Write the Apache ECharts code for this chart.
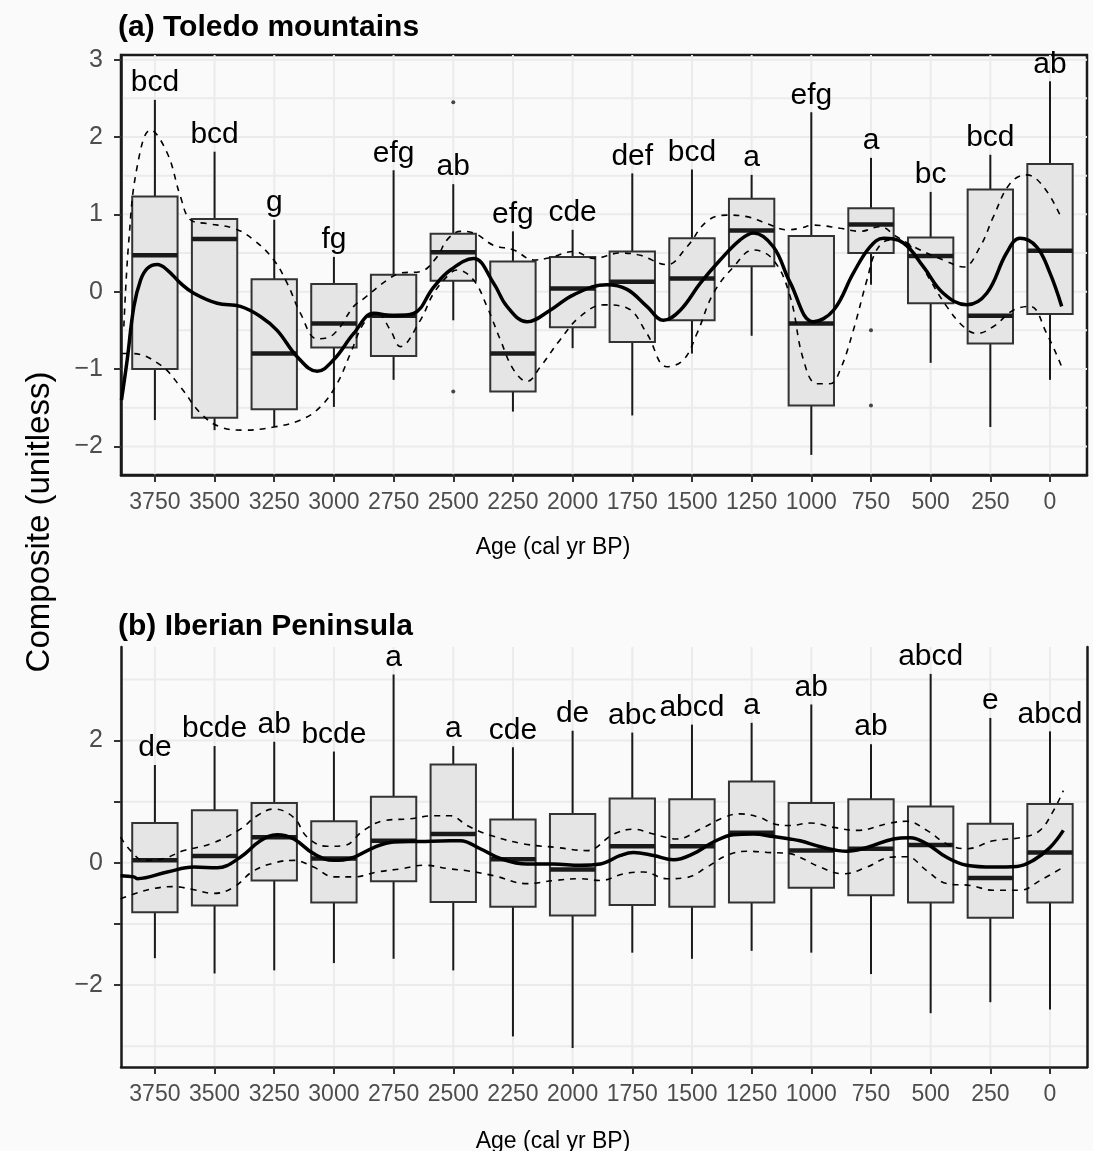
<!DOCTYPE html>
<html><head><meta charset="utf-8">
<script src="https://cdn.jsdelivr.net/npm/echarts@6/dist/echarts.min.js"></script>
<style>html,body{margin:0;padding:0;background:#fafafa}#c{width:1093px;height:1151px}</style>
</head><body><div id="c"></div>
<script>
// ---------- DATA ----------
const ages = [3750,3500,3250,3000,2750,2500,2250,2000,1750,1500,1250,1000,750,500,250,0];

// Panel (a) Toledo mountains: [low whisker, Q1, median, Q3, high whisker]
const lettersA = ['bcd','bcd','g','fg','efg','ab','efg','cde','def','bcd','a','efg','a','bc','bcd','ab'];
const statsA = [
  [-1.66,-1.00, 0.47,1.23,2.48],
  [-1.79,-1.63, 0.68,0.94,1.81],
  [-1.75,-1.52,-0.80,0.16,0.93],
  [-1.49,-0.72,-0.41,0.10,0.45],
  [-1.14,-0.83,-0.31,0.22,1.57],
  [-0.37, 0.14, 0.51,0.75,1.39],
  [-1.55,-1.29,-0.80,0.39,0.78],
  [-0.73,-0.46, 0.04,0.45,0.80],
  [-1.60,-0.65, 0.13,0.52,1.53],
  [-0.80,-0.37, 0.17,0.69,1.58],
  [-0.57, 0.33, 0.79,1.20,1.51],
  [-2.11,-1.47,-0.41,0.72,2.32],
  [ 0.09, 0.50, 0.87,1.08,1.73],
  [-0.92,-0.15, 0.46,0.70,1.29],
  [-1.75,-0.67,-0.31,1.32,1.77],
  [-1.14,-0.29, 0.53,1.65,2.72]
];
const outliersA = [[2500,2.45],[2500,-1.29],[750,-0.50],[750,-1.47]];
const meanA = [[3890,-1.40],[3866,-0.88],[3838,-0.19],[3810,0.15],[3782,0.30],[3740,0.35],[3698,0.28],[3643,0.11],[3587,-0.02],[3489,-0.15],[3392,-0.19],[3308,-0.32],[3238,-0.50],[3154,-0.84],[3070,-1.03],[3001,-0.88],[2917,-0.54],[2833,-0.28],[2750,-0.31],[2666,-0.28],[2582,0.06],[2512,0.28],[2415,0.43],[2331,0.11],[2275,-0.19],[2191,-0.39],[2094,-0.24],[1996,-0.04],[1856,0.09],[1772,0.03],[1689,-0.19],[1619,-0.37],[1549,-0.24],[1465,0.11],[1382,0.41],[1298,0.67],[1242,0.76],[1159,0.58],[1089,0.12],[991,-0.39],[907,-0.24],[824,0.24],[754,0.58],[698,0.69],[614,0.63],[530,0.32],[447,-0.02],[349,-0.17],[265,-0.02],[182,0.50],[126,0.69],[56,0.58],[0,0.24],[-49,-0.19]];
const upperA = [[3880,-0.45],[3859,0.67],[3824,1.62],[3768,2.09],[3698,1.79],[3643,1.23],[3601,0.93],[3531,0.88],[3420,0.82],[3336,0.67],[3252,0.41],[3196,0.11],[3140,-0.28],[3070,-0.61],[3001,-0.55],[2917,-0.19],[2875,-0.09],[2777,0.15],[2722,0.24],[2638,0.26],[2568,0.45],[2526,0.67],[2470,0.78],[2415,0.76],[2331,0.60],[2247,0.54],[2163,0.41],[2094,0.44],[1996,0.52],[1912,0.43],[1800,0.50],[1717,0.47],[1605,0.35],[1521,0.58],[1437,0.91],[1354,0.99],[1270,0.97],[1186,0.88],[1102,0.80],[1047,0.82],[991,0.86],[879,0.82],[796,0.78],[712,0.84],[642,0.71],[544,0.54],[447,0.41],[363,0.32],[293,0.58],[237,0.97],[167,1.40],[98,1.51],[28,1.36],[-42,0.99]];
const lowerA = [[3887,-0.80],[3845,-0.80],[3726,-0.95],[3643,-1.23],[3559,-1.57],[3475,-1.75],[3378,-1.79],[3252,-1.75],[3140,-1.66],[3057,-1.49],[2987,-1.19],[2931,-0.80],[2875,-0.41],[2819,-0.28],[2763,-0.50],[2722,-0.71],[2638,-0.37],[2582,-0.02],[2512,0.24],[2484,0.28],[2415,0.15],[2359,-0.19],[2303,-0.62],[2247,-1.01],[2191,-1.16],[2135,-0.97],[2052,-0.62],[1968,-0.32],[1870,-0.17],[1772,-0.21],[1689,-0.54],[1605,-0.97],[1535,-0.88],[1479,-0.54],[1410,-0.02],[1326,0.32],[1242,0.54],[1159,0.41],[1089,-0.06],[1033,-0.88],[977,-1.19],[921,-1.19],[879,-1.01],[824,-0.50],[767,0.15],[726,0.54],[670,0.67],[600,0.63],[558,0.45],[502,0.15],[433,-0.19],[363,-0.45],[307,-0.54],[237,-0.45],[154,-0.24],[84,-0.19],[14,-0.54],[-49,-0.97]];

// Panel (b) Iberian Peninsula
const lettersB = ['de','bcde','ab','bcde','a','a','cde','de','abc','abcd','a','ab','ab','abcd','e','abcd'];
const statsB = [
  [-1.56,-0.81, 0.04,0.65,1.60],
  [-1.81,-0.70, 0.11,0.86,1.91],
  [-1.76,-0.29, 0.42,0.98,1.98],
  [-1.64,-0.65, 0.07,0.68,1.82],
  [-1.57,-0.30, 0.36,1.08,3.08],
  [-1.76,-0.64, 0.47,1.61,1.91],
  [-2.84,-0.72, 0.06,0.71,1.89],
  [-3.03,-0.86,-0.11,0.80,2.16],
  [-1.47,-0.69, 0.27,1.05,2.13],
  [-1.57,-0.72, 0.27,1.04,2.26],
  [-1.44,-0.65, 0.49,1.33,2.29],
  [-1.47,-0.41, 0.20,0.98,2.59],
  [-1.82,-0.53, 0.23,1.04,1.94],
  [-2.46,-0.65, 0.29,0.92,3.09],
  [-2.28,-0.90,-0.25,0.64,2.37],
  [-2.40,-0.65, 0.17,0.96,2.15]
];
const meanB = [[3894,-0.21],[3838,-0.23],[3824,-0.26],[3698,-0.15],[3587,-0.07],[3489,-0.08],[3392,0.09],[3308,0.36],[3238,0.46],[3168,0.39],[3085,0.15],[3001,0.04],[2931,0.07],[2833,0.25],[2750,0.34],[2638,0.35],[2512,0.36],[2470,0.36],[2387,0.23],[2303,0.07],[2191,-0.02],[2080,-0.02],[1968,-0.04],[1884,-0.02],[1800,0.12],[1745,0.17],[1661,0.12],[1577,0.05],[1494,0.15],[1410,0.34],[1326,0.46],[1242,0.47],[1159,0.43],[1089,0.39],[1047,0.36],[949,0.25],[851,0.19],[767,0.25],[656,0.39],[586,0.41],[516,0.31],[433,0.09],[349,-0.04],[237,-0.07],[139,-0.06],[70,0.04],[0,0.25],[-56,0.53]];
const upperB = [[3894,0.42],[3852,0.20],[3796,0.04],[3713,0.07],[3629,0.20],[3517,0.31],[3392,0.55],[3322,0.77],[3252,0.88],[3168,0.74],[3112,0.42],[3029,0.27],[2959,0.28],[2875,0.53],[2791,0.69],[2680,0.72],[2582,0.77],[2512,0.77],[2442,0.61],[2345,0.45],[2205,0.31],[2065,0.25],[1940,0.20],[1828,0.47],[1745,0.55],[1661,0.47],[1563,0.39],[1465,0.55],[1368,0.74],[1298,0.80],[1214,0.74],[1159,0.64],[1089,0.61],[1005,0.65],[907,0.58],[809,0.53],[670,0.65],[600,0.68],[516,0.53],[433,0.31],[349,0.23],[237,0.36],[112,0.42],[42,0.53],[-14,0.85],[-56,1.18]];
const lowerB = [[3894,-0.59],[3838,-0.51],[3754,-0.42],[3671,-0.39],[3587,-0.44],[3503,-0.50],[3420,-0.40],[3336,-0.13],[3238,0.01],[3168,0.04],[3085,-0.07],[3001,-0.23],[2917,-0.23],[2819,-0.15],[2722,-0.10],[2624,-0.04],[2512,-0.10],[2442,-0.13],[2331,-0.21],[2191,-0.34],[2080,-0.29],[1968,-0.26],[1884,-0.29],[1787,-0.18],[1703,-0.15],[1605,-0.26],[1521,-0.24],[1437,-0.07],[1354,0.12],[1270,0.19],[1186,0.17],[1089,0.15],[1047,0.09],[963,-0.07],[865,-0.18],[767,-0.07],[670,0.09],[600,0.10],[516,-0.13],[433,-0.34],[335,-0.37],[237,-0.45],[126,-0.45],[42,-0.29],[-56,-0.07]];

// tick / grid values
const yTicksA = [-2,-1,0,1,2,3];
const yGridA = [-2,-1.5,-1,-0.5,0,0.5,1,1.5,2,2.5,3];
const yTicksB = [-2,-1,0,1,2];
const yLabelsB = [-2,0,2];
const yGridB = [-3,-2,-1,0,1,2,3];

// ---------- CHART ----------
const FONT = '"Liberation Sans", Arial, Helvetica, sans-serif';
const BOX_W = 190;
const X_MIN = -155, X_MAX = 3892;

function boxRender(letters) {
  return function (params, api) {
    const x = api.value(0);
    const lo = api.coord([x, api.value(1)]);
    const q1 = api.coord([x, api.value(2)]);
    const md = api.coord([x, api.value(3)]);
    const q3 = api.coord([x, api.value(4)]);
    const hi = api.coord([x, api.value(5)]);
    const w = Math.abs(api.size([BOX_W, 0])[0]);
    const cx = lo[0], L = cx - w / 2;
    return { type: 'group', children: [
      { type: 'line', shape: { x1: cx, y1: hi[1], x2: cx, y2: q3[1] }, style: { stroke: '#1a1a1a', lineWidth: 2 } },
      { type: 'line', shape: { x1: cx, y1: q1[1], x2: cx, y2: lo[1] }, style: { stroke: '#1a1a1a', lineWidth: 2 } },
      { type: 'rect', shape: { x: L, y: q3[1], width: w, height: q1[1] - q3[1] }, style: { fill: '#e5e5e5', stroke: '#333333', lineWidth: 2 } },
      { type: 'line', shape: { x1: L, y1: md[1], x2: L + w, y2: md[1] }, style: { stroke: '#1a1a1a', lineWidth: 4.5 } },
      { type: 'text', x: cx, y: hi[1] - 2, style: { text: letters[params.dataIndex], font: '30px ' + FONT, fill: '#000', align: 'center', verticalAlign: 'bottom' } }
    ]};
  };
}

function gridRender(params, api) {
  const cs = params.coordSys;
  const kind = api.value(0), v = api.value(1);
  const st = { stroke: '#ebebeb', lineWidth: 2 };
  if (kind === 0) {
    const y = api.coord([0, v])[1];
    return { type: 'line', shape: { x1: cs.x, y1: y, x2: cs.x + cs.width, y2: y }, style: st };
  }
  const x = api.coord([v, 0])[0];
  return { type: 'line', shape: { x1: x, y1: cs.y, x2: x, y2: cs.y + cs.height }, style: st };
}

const gridDataA = yGridA.map(v => [0, v]).concat(ages.map(a => [1, a]));
const gridDataB = yGridB.map(v => [0, v]).concat(ages.map(a => [1, a]));
const boxDataA = ages.map((a, i) => [a].concat(statsA[i]));
const boxDataB = ages.map((a, i) => [a].concat(statsB[i]));

const minus = v => String(v).replace('-', '\u2212');

function xAxisCfg(gi) {
  return {
    gridIndex: gi, type: 'value', inverse: true, min: X_MIN, max: X_MAX,
    axisLine: { show: true, onZero: false, lineStyle: { color: '#1a1a1a', width: 2.5 } },
    axisTick: { show: true, customValues: ages, length: 7, lineStyle: { color: '#333', width: 2 } },
    axisLabel: { show: true, customValues: ages, fontSize: 23, fontFamily: FONT, color: '#4d4d4d', margin: 16, formatter: v => String(v) },
    splitLine: { show: false }
  };
}

const option = {
  backgroundColor: '#fafafa',
  animation: false,
  grid: [
    { left: 121, top: 55, width: 966, height: 420, show: true, borderColor: '#1a1a1a', borderWidth: 2.5, backgroundColor: 'transparent' },
    { left: 121, top: 647, width: 966, height: 420, show: false }
  ],
  xAxis: [ xAxisCfg(0), xAxisCfg(1) ],
  yAxis: [
    { gridIndex: 0, type: 'value', min: -2.37, max: 3.06,
      axisLine: { show: true, onZero: false, lineStyle: { color: '#1a1a1a', width: 2.5 } },
      axisTick: { show: true, customValues: yTicksA, length: 7, lineStyle: { color: '#333', width: 2 } },
      axisLabel: { show: true, customValues: yTicksA, fontSize: 25, fontFamily: FONT, color: '#4d4d4d', margin: 18, formatter: minus },
      splitLine: { show: false } },
    { gridIndex: 1, type: 'value', min: -3.34, max: 3.53,
      axisLine: { show: true, onZero: false, lineStyle: { color: '#1a1a1a', width: 2.5 } },
      axisTick: { show: true, customValues: yTicksB, length: 7, lineStyle: { color: '#333', width: 2 } },
      axisLabel: { show: true, customValues: yLabelsB, fontSize: 25, fontFamily: FONT, color: '#4d4d4d', margin: 18, formatter: minus },
      splitLine: { show: false } },
    { gridIndex: 1, type: 'value', min: -3.34, max: 3.53, position: 'right',
      axisLine: { show: true, onZero: false, lineStyle: { color: '#1a1a1a', width: 2.5 } },
      axisTick: { show: false }, axisLabel: { show: false }, splitLine: { show: false } }
  ],
  graphic: [
    { type: 'text', left: 118, top: 13, style: { text: '(a) Toledo mountains', font: 'bold 30px ' + FONT, fill: '#000' } },
    { type: 'text', left: 118, top: 612, style: { text: '(b) Iberian Peninsula', font: 'bold 30px ' + FONT, fill: '#000' } },
    { type: 'text', x: 553, y: 548, style: { text: 'Age (cal yr BP)', font: '23px ' + FONT, fill: '#000', align: 'center', verticalAlign: 'middle' } },
    { type: 'text', x: 553, y: 1142, style: { text: 'Age (cal yr BP)', font: '23px ' + FONT, fill: '#000', align: 'center', verticalAlign: 'middle' } },
    { type: 'text', x: 40, y: 522, rotation: Math.PI / 2, style: { text: 'Composite (unitless)', font: '33px ' + FONT, fill: '#000', align: 'center', verticalAlign: 'middle' } }
  ],
  series: [
    { type: 'custom', xAxisIndex: 0, yAxisIndex: 0, z: 0, silent: true, renderItem: gridRender, data: gridDataA },
    { type: 'custom', xAxisIndex: 1, yAxisIndex: 1, z: 0, silent: true, renderItem: gridRender, data: gridDataB },
    { type: 'custom', xAxisIndex: 0, yAxisIndex: 0, z: 2, renderItem: boxRender(lettersA), data: boxDataA },
    { type: 'custom', xAxisIndex: 1, yAxisIndex: 1, z: 2, renderItem: boxRender(lettersB), data: boxDataB },
    { type: 'scatter', xAxisIndex: 0, yAxisIndex: 0, z: 3, symbolSize: 4, itemStyle: { color: '#1a1a1a' }, data: outliersA },
    { type: 'line', xAxisIndex: 0, yAxisIndex: 0, z: 4, smooth: 0.4, showSymbol: false, lineStyle: { color: '#000', width: 1.6, type: [6, 6] }, data: upperA },
    { type: 'line', xAxisIndex: 0, yAxisIndex: 0, z: 4, smooth: 0.4, showSymbol: false, lineStyle: { color: '#000', width: 1.6, type: [6, 6] }, data: lowerA },
    { type: 'line', xAxisIndex: 0, yAxisIndex: 0, z: 5, smooth: 0.4, showSymbol: false, lineStyle: { color: '#000', width: 3.5 }, data: meanA },
    { type: 'line', xAxisIndex: 1, yAxisIndex: 1, z: 4, smooth: 0.4, showSymbol: false, lineStyle: { color: '#000', width: 1.6, type: [6, 6] }, data: upperB },
    { type: 'line', xAxisIndex: 1, yAxisIndex: 1, z: 4, smooth: 0.4, showSymbol: false, lineStyle: { color: '#000', width: 1.6, type: [6, 6] }, data: lowerB },
    { type: 'line', xAxisIndex: 1, yAxisIndex: 1, z: 5, smooth: 0.4, showSymbol: false, lineStyle: { color: '#000', width: 3.5 }, data: meanB }
  ]
};

const chart = echarts.init(document.getElementById('c'), null, { renderer: 'canvas' });
chart.setOption(option);
</script>
</body></html>
